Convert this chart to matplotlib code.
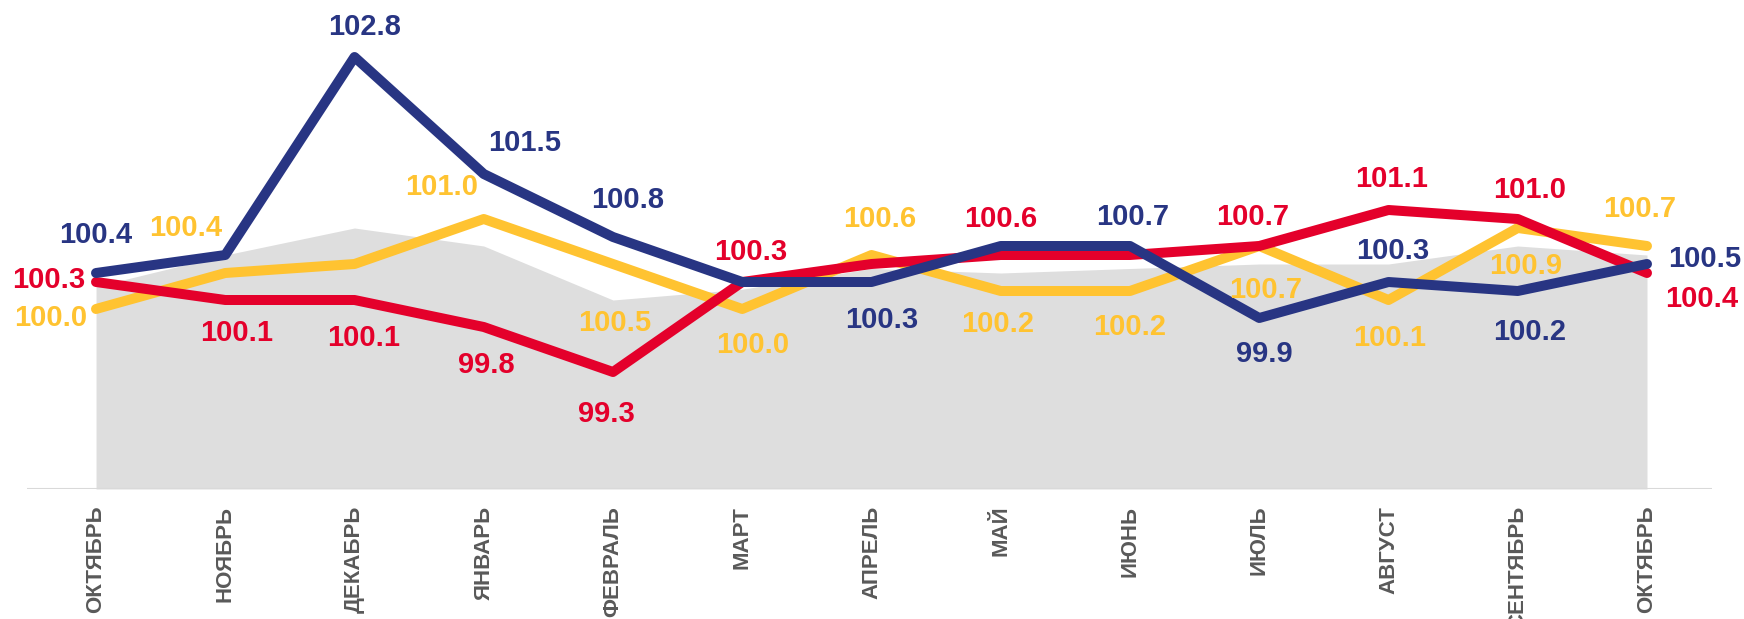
import matplotlib
matplotlib.use("Agg")
import matplotlib.pyplot as plt

months = ["ОКТЯБРЬ", "НОЯБРЬ", "ДЕКАБРЬ", "ЯНВАРЬ", "ФЕВРАЛЬ", "МАРТ", "АПРЕЛЬ",
          "МАЙ", "ИЮНЬ", "ИЮЛЬ", "АВГУСТ", "СЕНТЯБРЬ", "ОКТЯБРЬ"]
blue = [100.4, 100.6, 102.8, 101.5, 100.8, 100.3, 100.3, 100.7, 100.7, 99.9, 100.3, 100.2, 100.5]
yellow = [100.0, 100.4, 100.5, 101.0, 100.5, 100.0, 100.6, 100.2, 100.2, 100.7, 100.1, 100.9, 100.7]
red = [100.3, 100.1, 100.1, 99.8, 99.3, 100.3, 100.5, 100.6, 100.6, 100.7, 101.1, 101.0, 100.4]
gray = [100.25, 100.6, 100.9, 100.7, 100.1, 100.22, 100.45, 100.4, 100.45, 100.5, 100.5, 100.7, 100.6]

# label offsets in pixels (screen: dx right, dy down); None = no label
blue_off = [(0, -40), None, (10, -32), (41, -33), (15, -39), None, (10, 36), None,
            (3, -31), (5, 34), (4, -33), (12, 39), (58, -7)]
yellow_off = [(-45, 7), (-40, -47), None, (-42, -34), (2, 57), (10, 34), (8, -38), (-3, 31),
              (0, 34), (6, 42), (1, 36), (8, 36), (-7, -39)]
red_off = [(-47, -4), (11, 31), (9, 36), (3, 36), (-7, 40), (8, -32), None, (0, -38),
           None, (-7, -31), (3, -33), (12, -31), (55, 24)]

C_BLUE = "#283583"
C_YEL = "#FFC331"
C_RED = "#E4002B"
C_GRAY = "#DEDEDE"

plt.rcParams["font.family"] = ["Liberation Sans", "DejaVu Sans"]

fig = plt.figure(figsize=(17.44, 6.19), dpi=100)
ax = fig.add_axes([27 / 1744, 130 / 619, (1712 - 27) / 1744, 489 / 619])
x = list(range(len(months)))

ax.fill_between(x, 98.0, gray, color=C_GRAY, lw=0, zorder=1)
ax.axhline(98.0, color="#D9D9D9", lw=2.2, zorder=2)

for vals, col, z in [(yellow, C_YEL, 3), (red, C_RED, 4), (blue, C_BLUE, 5)]:
    ax.plot(x, vals, color=col, lw=7.2, solid_capstyle="round", solid_joinstyle="round", zorder=z)

for vals, offs, col in [(blue, blue_off, C_BLUE), (yellow, yellow_off, C_YEL), (red, red_off, C_RED)]:
    for i, (v, o) in enumerate(zip(vals, offs)):
        if o is None:
            continue
        ax.annotate(f"{v:.1f}", (i, v), xytext=(o[0], -o[1] - 2), textcoords="offset pixels",
                    ha="center", va="center", fontsize=21, fontweight="bold", color=col, zorder=6)

ax.set_xlim(-0.534, 12.503)
ax.set_ylim(98.0, 98.0 + 489 / 90)
ax.set_xticks(x)
ax.set_xticklabels(months, rotation=90, fontsize=16, fontweight="bold", color="#595959")
ax.tick_params(axis="x", length=0, pad=12)
ax.set_yticks([])
for s in ax.spines.values():
    s.set_visible(False)

fig.savefig("out.png", dpi=100)
